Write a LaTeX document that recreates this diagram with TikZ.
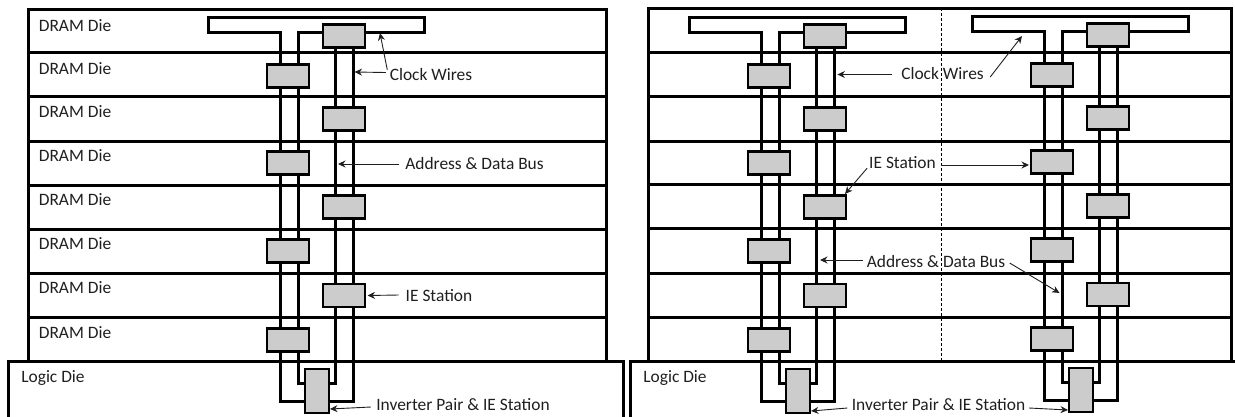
\documentclass[tikz,border=0pt]{standalone}
\usepackage{fontspec}
\setmainfont{Carlito}
\usetikzlibrary{arrows.meta}
\definecolor{ink}{HTML}{1F1F1F}
\definecolor{station}{HTML}{CDCCCD}
\tikzset{
  x=1pt,y=-1pt,
  frame/.style={draw=black,line width=3.3pt},
  wire/.style={draw=black,line width=3.3pt,line join=miter},
  ie/.style={draw=black,line width=2.4pt,fill=station,minimum width=42pt,minimum height=23pt,inner sep=0pt,outer sep=0pt},
  invbox/.style={ie,minimum width=24pt,minimum height=44pt},
  lbl/.style={text=ink,font=\fontsize{17.4}{20}\selectfont,inner sep=0pt,outer sep=0pt},
  pointer/.style={draw=ink,line width=0.9pt,-{Stealth[length=7.5pt,width=7pt]}},
  divider/.style={draw=black,line width=0.7pt,dash pattern=on 3pt off 2pt},
}
% prefix, x offset, y offset
\newcommand{\diestack}[3]{%
  \begin{scope}[shift={(#2,#3)}]
    \draw[wire] (280.5,401.5) -- (280.5,32.5) -- (208.5,32.5) -- (208.5,17.5) -- (424.5,17.5) -- (424.5,32.5)
      -- (298.5,32.5) -- (298.5,383.5) -- (335.5,383.5) -- (335.5,40) -- (353.5,40) -- (353.5,401.5) -- cycle;
    \foreach \yy/\nn in {76/a,163/b,251/c,340/d}
      \node[ie] (#1l\nn) at (288,\yy) {};
    \foreach \yy/\nn in {36/a,119/b,207/c,295.5/d}
      \node[ie] (#1r\nn) at (344,\yy) {};
    \node[invbox] (#1inv) at (317,391) {};
  \end{scope}}
\begin{document}
\begin{tikzpicture}
\useasboundingbox (0,0) rectangle (1235,416);
% left panel dies
\draw[frame] (28.5,9.5) rectangle (606.5,361.5);
\foreach \yy in {52.5,96.5,141.5,185.5,229.5,273.5,317.5}
  \draw[frame] (28.5,\yy) -- (606.5,\yy);
\draw[frame] (8.5,417) -- (8.5,361.5) -- (623.5,361.5) -- (623.5,417);
% right panel dies
\draw[frame] (648.5,8.5) rectangle (1231.5,361.5);
\foreach \yy in {52.5,96.5,141.5,184.5,228.5,273.5,317.5}
  \draw[frame] (648.5,\yy) -- (1231.5,\yy);
\draw[frame] (630.5,417) -- (630.5,361.5) -- (1236,361.5);
\coordinate (dt) at (941.5,8);
\coordinate (db) at (941.5,361);
\draw[divider] (dt) -- (db);
% stacks
\diestack{p}{0}{0}
\diestack{q}{481}{0}
\diestack{s}{764}{-1}
% die labels
\foreach \yy/\nn in {26/a,69/b,112/c,156/d,200/e,244/f,288/g,333/h}
  \node[lbl] (die\nn) at (75,\yy) {DRAM Die};
\node[lbl] (logicl) at (53,378) {Logic Die};
\node[lbl] (logicr) at (675,378) {Logic Die};
% left labels
\node[lbl] (lclk) at (431,75) {Clock Wires};
\node[lbl] (laddr) at (474.5,164) {Address \& Data Bus};
\node[lbl] (lie) at (439,296) {IE Station};
\node[lbl] (linv) at (463,405) {Inverter Pair \& IE Station};
\coordinate (t1) at (380,33);
\coordinate (t2) at (354.5,72);
\coordinate (t3) at (338,164);
\coordinate (t4) at (367.5,295.5);
\coordinate (t5) at (330,409);
\draw[pointer] (lclk.north west)++(-2.5,1) -- (t1);
\draw[pointer] (lclk.west)++(-4,-2.5) -- (t2);
\draw[pointer] (laddr.west)++(-6,0) -- (t3);
\draw[pointer] (lie.west)++(-7,-1) -- (t4);
\draw[pointer] (linv.west)++(-5.5,2) -- (t5);
% right labels
\node[lbl] (rclk) at (942.5,74) {Clock Wires};
\node[lbl] (rie) at (902.5,163) {IE Station};
\node[lbl] (raddr) at (936,262) {Address \& Data Bus};
\node[lbl] (rinv) at (938.5,405) {Inverter Pair \& IE Station};
\coordinate (u1) at (837.4,74.5);
\coordinate (u2) at (1022,36);
\coordinate (u3) at (1029,165);
\coordinate (u4) at (845,194);
\coordinate (u5) at (820,260);
\coordinate (u6) at (1059.5,293);
\coordinate (u7) at (811,411);
\coordinate (u8) at (1068,410);
\draw[pointer] (rclk.west)++(-9,0.5) -- (u1);
\draw[pointer] (rclk.east)++(6.5,3) -- (u2);
\draw[pointer] (rie.east)++(5,2) -- (u3);
\draw[pointer] (rie.south west)++(-2,-1) -- (u4);
\draw[pointer] (raddr.west)++(-4,-2) -- (u5);
\draw[pointer] (raddr.east)++(4.5,1) -- (u6);
\draw[pointer] (rinv.west)++(-4.5,3) -- (u7);
\draw[pointer] (rinv.east)++(4,3) -- (u8);
\end{tikzpicture}
\end{document}
